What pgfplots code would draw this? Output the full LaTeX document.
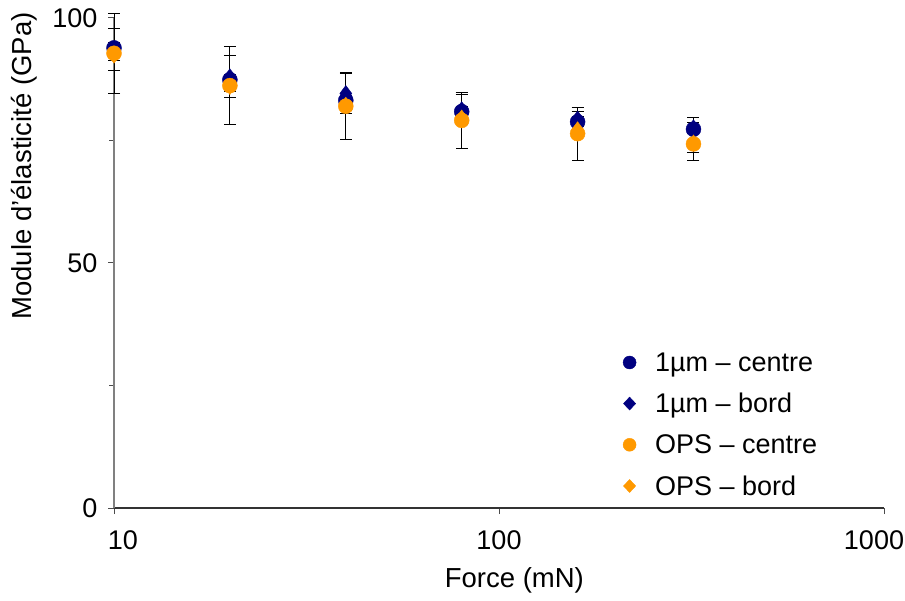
\documentclass[border=0pt]{standalone}
\usepackage{fontspec}
\setmainfont{Liberation Sans}
\usepackage{pgfplots}
\pgfplotsset{compat=1.18}
\usepackage{pgfplotstable}
\definecolor{navyc}{HTML}{000080}
\definecolor{orangec}{HTML}{FF9900}

\pgfplotstableread{
x y e
10 93.9 1.0
20 87.4 1.0
40 83.2 1.0
80 80.9 1.0
160 78.8 1.0
320 77.3 2.4
}\cone
\pgfplotstableread{
x y e
10 93.6 4.3
20 88.0 4.3
40 84.6 4.0
80 81.3 3.1
160 79.4 1.5
320 77.6 1.0
}\bone
\pgfplotstableread{
x y e
10 92.8 8.2
20 86.2 8.0
40 82.0 6.8
80 79.1 5.7
160 76.4 5.4
320 74.3 3.3
}\cops
\pgfplotstableread{
x y e
10 92.4 1.0
20 86.0 1.0
40 82.2 1.0
80 79.6 1.0
160 77.2 1.0
320 74.5 2.0
}\bops

\begin{document}
\begin{tikzpicture}
\begin{axis}[
  scale only axis,
  width=770pt, height=490pt,
  xmode=log, xmin=10, xmax=1000,
  ymin=0, ymax=100,
  xtick={10,100,1000}, xticklabels={\hspace*{18pt}10,100,1000\hspace*{20pt}},
  xminorticks=false,
  ytick={0,50,100}, minor ytick={25,75},
  axis lines*=left,
  x axis line style={draw=black!80, line width=1.2pt},
  y axis line style={draw=black!50, line width=1.2pt},
  tick align=outside,
  major tick length=6pt, minor tick length=5pt,
  every tick/.style={black!70, line width=1pt},
  /pgf/number format/assume math mode=true,
  tick label style={font=\fontsize{27}{31}\selectfont},
  yticklabel style={xshift=-7pt},
  xticklabel style={yshift=-13pt},
  label style={font=\fontsize{27.5}{31}\selectfont},
  xlabel={Force (mN)},
  ylabel={Module d’élasticité (GPa)},
  xlabel style={at={(axis description cs:0.52,0)}, anchor=center, yshift=-72pt},
  ylabel style={at={(axis description cs:-0.117,0.698)}, anchor=center, rotate=0},
  legend style={draw=none, fill=none, at={(axis description cs:0.657,0.326)}, anchor=north west,
    font=\fontsize{27}{31}\selectfont, row sep=16.5pt,
    /tikz/every odd column/.append style={column sep=17pt}},
  legend cell align=left,
  clip=false,
]
% error bars
\addplot[forget plot, only marks, mark=none, error bars/.cd, y dir=both, y explicit,
  error bar style={black, line width=1pt}, error mark options={black, line width=1pt, mark size=6pt, rotate=90}]
  table[x=x, y=y, y error=e] {\cone};
\addplot[forget plot, only marks, mark=none, error bars/.cd, y dir=both, y explicit,
  error bar style={black, line width=1pt}, error mark options={black, line width=1pt, mark size=6pt, rotate=90}]
  table[x=x, y=y, y error=e] {\bone};
\addplot[forget plot, only marks, mark=none, error bars/.cd, y dir=both, y explicit,
  error bar style={black, line width=1pt}, error mark options={black, line width=1pt, mark size=6pt, rotate=90}]
  table[x=x, y=y, y error=e] {\cops};
\addplot[forget plot, only marks, mark=none, error bars/.cd, y dir=both, y explicit,
  error bar style={black, line width=1pt}, error mark options={black, line width=1pt, mark size=6pt, rotate=90}]
  table[x=x, y=y, y error=e] {\bops};
% markers
\addplot[only marks, mark=*, mark size=7.5pt, navyc, mark options={draw=navyc, fill=navyc},
  legend image post style={mark size=6.5pt}] table[x=x, y=y] {\cone};
\addlegendentry{1µm – centre}
\addplot[only marks, mark=diamond*, mark size=8pt, navyc, mark options={draw=navyc, fill=navyc},
  legend image post style={mark size=6.5pt, mark options={xscale=1.25}}] table[x=x, y=y] {\bone};
\addlegendentry{1µm – bord}
\addplot[only marks, mark=*, mark size=7.5pt, orangec, mark options={draw=orangec, fill=orangec},
  legend image post style={mark size=6.5pt}] table[x=x, y=y] {\cops};
\addlegendentry{OPS – centre}
\addplot[only marks, mark=diamond*, mark size=8pt, orangec, mark options={draw=orangec, fill=orangec},
  legend image post style={mark size=6.5pt, mark options={xscale=1.25}}] table[x=x, y=y] {\bops};
\addlegendentry{OPS – bord}
\end{axis}
\pgfresetboundingbox
\path ([shift={(-114pt,-92pt)}]current axis.south west) rectangle ([shift={(21pt,18pt)}]current axis.north east);
\end{tikzpicture}
\end{document}
